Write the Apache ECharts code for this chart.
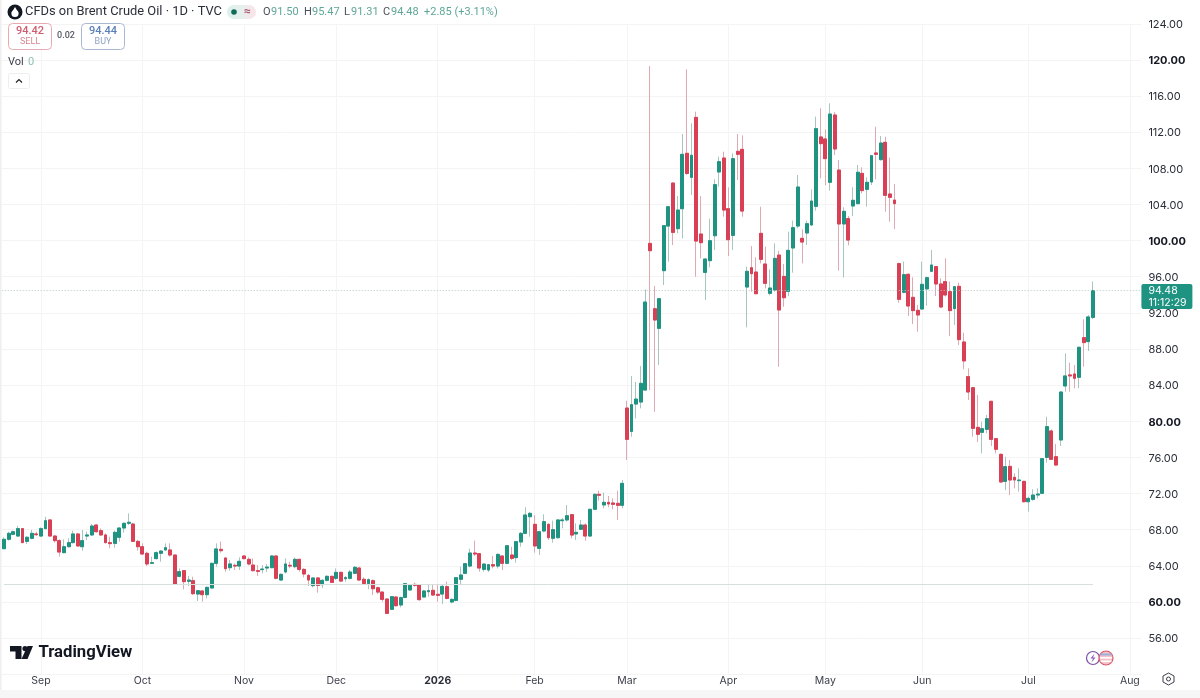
<!DOCTYPE html>
<html>
<head>
<meta charset="utf-8">
<title>CFDs on Brent Crude Oil</title>
<style>
    html, body { margin: 0; padding: 0; background: #fff; }
    #chart { width: 1200px; height: 698px; }
</style>
<script src="https://cdn.jsdelivr.net/npm/echarts@6/dist/echarts.min.js"></script>
</head>
<body>
<div id="chart"></div>
<script>
// daily bars, oldest first
var opens = [
    65.90, 66.94, 67.49, 67.30, 68.12, 66.71, 67.05, 67.53, 67.30, 68.12,
    69.08, 67.30, 66.79, 65.46, 66.12, 66.57, 67.53, 66.12, 67.30, 67.42,
    68.52, 67.90, 67.42, 66.57, 66.49, 67.16, 68.19, 68.71, 68.63, 66.71,
    66.12, 65.39, 64.28, 64.80, 65.39, 65.76, 65.76, 65.20, 62.84, 63.47,
    62.29, 62.36, 60.88, 61.22, 60.81, 61.55, 64.28, 65.83, 64.87, 63.80,
    64.06, 63.98, 65.09, 64.72, 64.09, 63.47, 63.58, 63.76, 63.80, 65.09,
    62.43, 63.32, 64.06, 63.91, 64.72, 63.61, 62.95, 61.81, 62.66, 61.92,
    62.40, 62.84, 62.62, 63.28, 62.58, 62.62, 63.17, 63.76, 62.51, 62.03,
    62.36, 61.58, 61.10, 60.33, 59.19, 60.55, 59.67, 60.51, 61.33, 61.95,
    61.88, 60.55, 61.14, 61.29, 60.85, 60.88, 61.70, 60.00, 60.18, 62.51,
    63.17, 63.98, 65.42, 65.35, 63.61, 63.54, 64.13, 63.98, 65.09, 64.28,
    65.20, 64.91, 66.64, 67.60, 69.44, 68.60, 65.94, 67.86, 68.60, 67.05,
    67.12, 69.00, 69.08, 69.67, 67.53, 68.04, 68.52, 67.30, 70.26, 71.92,
    70.74, 71.03, 70.96, 70.92, 70.70, 81.47, 78.88, 81.91, 82.13, 83.46,
    99.69, 92.46, 90.29, 96.67, 101.61, 106.37, 101.32, 103.53, 109.66, 107.00,
    113.64, 100.73, 96.48, 97.78, 100.54, 107.59, 109.14, 103.53, 100.58, 109.88,
    110.10, 94.86, 97.00, 96.52, 100.80, 97.41, 94.16, 94.53, 98.40, 96.04,
    94.38, 99.18, 101.61, 100.25, 100.84, 101.73, 103.79, 111.47, 111.25, 106.45,
    113.90, 107.81, 101.84, 102.43, 103.83, 104.09, 107.44, 105.67, 106.49, 109.70,
    108.96, 110.88, 105.16, 104.49, 97.45, 94.28, 96.27, 93.72, 92.28, 92.43,
    94.65, 96.60, 97.12, 95.20, 95.46, 94.35, 92.47, 94.94, 88.78, 84.94,
    83.72, 79.33, 78.78, 79.11, 82.21, 78.08, 76.34, 73.35, 75.01, 73.80,
    73.43, 73.35, 71.10, 71.36, 71.84, 72.03, 76.01, 78.93, 76.08, 77.93,
    83.91, 85.13, 85.24, 84.87, 89.26, 88.82, 91.50
];
var closes = [
    66.94, 67.60, 67.78, 68.12, 66.57, 67.16, 67.60, 67.45, 68.12, 69.00,
    67.30, 66.79, 65.53, 66.12, 66.57, 67.53, 66.20, 66.79, 67.42, 68.41,
    67.78, 67.42, 66.57, 66.46, 67.71, 68.19, 68.71, 68.82, 66.71, 66.12,
    65.31, 64.21, 64.35, 65.46, 65.64, 66.01, 65.20, 61.95, 63.36, 62.25,
    62.43, 60.92, 61.25, 60.81, 61.62, 64.28, 65.87, 65.68, 63.69, 64.21,
    63.98, 64.50, 64.80, 64.21, 63.47, 63.39, 63.65, 63.87, 65.09, 62.62,
    63.06, 64.21, 63.98, 64.72, 63.61, 63.10, 62.43, 62.66, 61.84, 62.40,
    62.84, 62.17, 63.28, 62.32, 62.69, 63.32, 63.84, 62.43, 62.03, 62.47,
    61.47, 61.10, 60.29, 58.74, 60.59, 59.59, 60.48, 62.03, 61.84, 61.84,
    60.26, 61.22, 61.25, 60.77, 60.74, 61.73, 60.40, 60.29, 62.69, 62.99,
    64.24, 65.42, 65.31, 63.76, 64.20, 64.13, 63.98, 65.27, 64.28, 66.23,
    64.83, 66.68, 67.60, 69.63, 69.81, 66.20, 67.78, 68.89, 67.12, 68.01,
    69.08, 69.08, 69.55, 67.41, 67.71, 68.52, 67.30, 70.26, 71.92, 71.81,
    71.03, 70.85, 70.81, 70.70, 73.13, 78.00, 81.84, 82.46, 84.20, 93.20,
    98.88, 91.21, 93.57, 101.65, 103.75, 100.91, 103.38, 109.55, 107.44, 109.44,
    99.95, 99.77, 97.96, 99.99, 106.19, 108.74, 103.38, 100.10, 109.07, 109.55,
    103.27, 96.60, 96.34, 94.12, 97.92, 95.27, 94.75, 98.03, 92.32, 93.68,
    98.92, 101.43, 105.93, 99.84, 101.87, 104.38, 112.39, 110.73, 109.07, 114.01,
    110.14, 101.84, 103.24, 100.06, 104.46, 107.56, 105.53, 106.45, 109.40, 109.55,
    110.80, 105.01, 104.79, 104.09, 93.50, 96.23, 92.76, 92.25, 91.77, 95.16,
    95.90, 97.30, 95.20, 92.65, 93.98, 92.25, 94.90, 89.04, 86.68, 83.24,
    79.22, 78.56, 79.18, 80.29, 78.00, 76.90, 73.28, 74.98, 73.50, 73.50,
    73.50, 71.10, 71.47, 71.84, 71.95, 75.86, 79.41, 75.79, 75.16, 83.24,
    85.02, 85.02, 84.76, 88.19, 88.71, 91.55, 94.48
];
var highs = [
    67.16, 67.78, 67.90, 68.41, 68.12, 67.30, 67.97, 67.78, 68.26, 69.44,
    69.15, 67.42, 66.94, 66.94, 67.05, 67.90, 67.60, 67.97, 67.78, 68.63,
    68.63, 68.15, 67.60, 67.23, 67.90, 68.26, 68.78, 69.81, 68.78, 66.86,
    66.49, 65.57, 65.02, 65.61, 65.76, 66.49, 66.49, 65.20, 63.73, 63.54,
    62.88, 62.80, 61.33, 61.33, 61.70, 64.35, 66.49, 66.68, 64.94, 64.65,
    64.28, 64.94, 65.20, 64.94, 64.83, 64.09, 64.09, 64.21, 65.20, 65.20,
    63.17, 64.83, 64.46, 64.94, 64.80, 63.73, 63.10, 62.73, 62.73, 62.51,
    62.95, 62.91, 63.72, 63.36, 62.88, 63.54, 63.98, 63.91, 62.73, 62.62,
    62.51, 61.70, 61.14, 60.40, 60.66, 60.66, 60.59, 62.06, 61.92, 62.14,
    61.99, 61.33, 61.88, 61.88, 61.88, 61.88, 62.25, 60.40, 62.76, 63.91,
    64.35, 65.90, 66.79, 65.38, 64.28, 64.20, 65.09, 65.38, 65.20, 66.31,
    66.12, 66.75, 67.75, 70.48, 69.98, 69.63, 67.89, 69.70, 68.71, 69.00,
    69.15, 69.30, 70.74, 69.74, 68.71, 69.08, 68.71, 70.33, 71.99, 72.32,
    72.10, 71.73, 71.47, 72.32, 73.50, 82.28, 85.01, 84.38, 86.12, 94.60,
    119.33, 94.97, 93.64, 101.72, 103.83, 106.45, 104.93, 111.80, 118.96, 112.98,
    114.27, 104.93, 98.03, 102.43, 106.78, 109.29, 109.84, 105.89, 109.66, 111.80,
    111.65, 97.11, 99.40, 98.15, 103.75, 99.33, 96.82, 99.69, 98.88, 97.41,
    100.99, 102.21, 107.26, 101.25, 102.21, 105.67, 113.72, 114.64, 112.32, 115.19,
    114.23, 108.92, 103.68, 102.72, 105.90, 108.37, 108.11, 107.00, 109.47, 112.61,
    111.58, 111.50, 109.18, 106.26, 97.56, 97.67, 96.38, 95.94, 92.87, 97.67,
    96.01, 98.96, 97.19, 95.83, 98.04, 95.46, 94.98, 95.35, 89.81, 85.86,
    83.83, 82.91, 79.96, 80.70, 82.28, 78.15, 76.45, 76.08, 75.72, 74.24,
    74.79, 73.43, 71.66, 72.47, 72.58, 75.94, 80.51, 79.11, 77.49, 83.32,
    87.52, 86.49, 86.23, 88.26, 91.29, 91.77, 95.47
];
var lows = [
    65.83, 66.79, 67.42, 67.23, 66.57, 66.42, 66.94, 67.30, 67.23, 68.04,
    67.30, 66.57, 65.02, 65.39, 66.05, 66.49, 66.12, 65.68, 66.86, 67.30,
    67.67, 67.30, 66.49, 65.94, 66.01, 66.68, 67.67, 68.52, 66.68, 65.68,
    65.20, 63.98, 64.21, 64.72, 64.46, 65.68, 65.02, 61.92, 62.73, 61.40,
    61.77, 60.77, 60.11, 60.04, 60.40, 61.48, 63.91, 65.46, 63.36, 63.47,
    63.54, 63.54, 64.72, 64.06, 63.36, 62.88, 63.17, 63.32, 63.73, 62.51,
    62.36, 63.17, 63.73, 63.73, 63.36, 62.73, 61.77, 61.62, 61.03, 61.55,
    62.29, 62.10, 62.43, 62.21, 62.25, 62.51, 63.10, 62.36, 61.92, 61.40,
    60.77, 60.88, 60.03, 58.67, 59.11, 59.48, 59.41, 60.44, 61.25, 61.70,
    60.14, 60.48, 60.59, 60.66, 60.03, 59.77, 60.29, 59.85, 60.07, 61.88,
    63.10, 63.84, 65.09, 63.36, 63.36, 63.32, 63.72, 63.72, 63.54, 64.17,
    64.65, 64.35, 66.12, 67.53, 67.23, 65.46, 65.20, 67.71, 66.86, 66.57,
    67.01, 68.15, 68.89, 67.05, 66.86, 67.97, 66.79, 67.23, 70.18, 71.22,
    70.37, 70.48, 70.26, 69.08, 70.37, 75.71, 78.29, 80.32, 81.43, 83.39,
    83.46, 81.06, 86.23, 95.08, 97.67, 99.51, 100.80, 100.25, 107.26, 105.05,
    96.00, 98.03, 93.42, 97.04, 98.96, 105.97, 102.65, 98.29, 98.96, 106.71,
    102.65, 90.40, 94.34, 94.09, 97.48, 94.71, 93.94, 94.34, 86.04, 92.68,
    93.87, 96.45, 101.36, 97.48, 99.51, 101.61, 103.31, 106.89, 106.15, 105.53,
    109.47, 96.67, 95.93, 99.47, 102.72, 104.01, 105.23, 103.75, 106.15, 106.78,
    108.85, 103.20, 102.09, 101.28, 93.13, 94.17, 91.66, 90.77, 89.92, 92.32,
    92.80, 96.53, 93.87, 92.58, 93.80, 89.44, 90.66, 88.45, 85.75, 82.36,
    78.30, 77.71, 76.45, 78.67, 77.27, 76.45, 73.21, 72.39, 71.84, 72.58,
    72.21, 71.00, 70.00, 71.21, 71.47, 71.95, 75.42, 75.72, 75.05, 77.27,
    83.28, 83.28, 83.65, 83.65, 86.05, 87.78, 91.31
];
var monthNames = ['Sep', 'Oct', 'Nov', 'Dec', '2026', 'Feb', 'Mar', 'Apr', 'May', 'Jun', 'Jul', 'Aug'];
var monthFirstBar = [8, 30, 52, 72, 94, 115, 135, 157, 178, 199, 222, 244];
var lastPrice = 94.48;
var baseLinePrice = 62;
var barSlots = 247; // empty slots stay on the right, as in the original

var categories = [];
for (let i = 0; i < barSlots; i++) {
    let m = monthFirstBar.indexOf(i);
    categories.push(m >= 0 ? monthNames[m] : 'bar ' + i);
}

let wickData = [];
let bodyData = [];
opens.forEach((o, i) => {
    let c = closes[i];
    wickData.push([o, c, lows[i], highs[i]]);
    bodyData.push([o, c, Math.min(o, c), Math.max(o, c)]);
});

var font = 'Inter, Roboto, sans-serif';
var headFont = 'Roboto, sans-serif';
var green = '#1f9382';
var red = '#d93f55';

function txt(x, y, text, size, fill, weight, align) {
    return {
        type: 'text', silent: true, z: 100, x: x, y: y,
        style: {
            text: text, fill: fill, fontFamily: headFont, fontSize: size, fontWeight: weight || 400,
            align: align || 'left', verticalAlign: 'middle'
        }
    };
}
function box(x, y, w, h, r, fill, stroke) {
    return {
        type: 'rect', silent: true, z: 100,
        shape: { x: x, y: y, width: w, height: h, r: r },
        style: { fill: fill, stroke: stroke || null, lineWidth: 1 }
    };
}

// header, buttons, logo and little icons
var decorations = [
    box(0, 0, 1.5, 690, 0, '#eeeeee'),
    box(0, 690, 1200, 8, 0, '#f6f6f6'),

    { type: 'circle', silent: true, z: 100, shape: { cx: 15, cy: 12, r: 7.5 }, style: { fill: '#131722' } },
    { type: 'circle', silent: true, z: 101, shape: { cx: 15, cy: 13.5, r: 3.6 }, style: { fill: '#fff' } },
    { type: 'polygon', silent: true, z: 101, shape: { points: [[15, 7], [18, 12], [12, 12]] }, style: { fill: '#fff' } },
    txt(25, 12, 'CFDs on Brent Crude Oil · 1D · TVC', 12.9, '#2a2e39'),
    {
        type: 'rect', silent: true, z: 100,
        shape: { x: 227, y: 5, width: 29, height: 14, r: 7 },
        style: { fill: { type: 'linear', x: 0, y: 0, x2: 1, y2: 0, colorStops: [{ offset: 0, color: '#dcf0ec' }, { offset: 0.5, color: '#e6f0ee' }, { offset: 1, color: '#fbe3e7' }] } }
    },
    { type: 'circle', silent: true, z: 101, shape: { cx: 234, cy: 12, r: 2.8 }, style: { fill: '#0f6b5a' } },
    txt(247.5, 12, '≈', 12, '#a8566b', 600, 'center'),
    txt(263, 12, 'O', 11, '#4a4f5c'),
    txt(271, 12, '91.50', 11, '#5ea698'),
    txt(304, 12, 'H', 11, '#4a4f5c'),
    txt(312, 12, '95.47', 11, '#5ea698'),
    txt(344, 12, 'L', 11, '#4a4f5c'),
    txt(351, 12, '91.31', 11, '#5ea698'),
    txt(383, 12, 'C', 11, '#4a4f5c'),
    txt(391, 12, '94.48', 11, '#5ea698'),
    txt(424, 12, '+2.85 (+3.11%)', 11, '#5ea698'),

    box(8.5, 23.5, 43, 26, 4, '#fff', '#e8aab2'),
    txt(30, 31, '94.42', 11, '#cf5d70', 500, 'center'),
    txt(30, 42, 'SELL', 9, '#d98894', 400, 'center'),
    txt(66, 36, '0.02', 9, '#555a66', 500, 'center'),
    box(81.5, 23.5, 43, 26, 4, '#fff', '#a9b8d2'),
    txt(103, 31, '94.44', 11, '#5b7fb8', 500, 'center'),
    txt(103, 42, 'BUY', 9, '#8fa3c6', 400, 'center'),

    txt(8, 62, 'Vol', 11, '#3b3f4a'),
    txt(28, 62, '0', 11, '#8fbfb5'),
    box(8.5, 73.5, 21, 15, 2, '#fff', '#eeeeee'),
    { type: 'polyline', silent: true, z: 101, shape: { points: [[16, 82.5], [19, 79.5], [22, 82.5]] }, style: { stroke: '#222', lineWidth: 1.2, fill: null } },

    // TradingView mark
    { type: 'polygon', silent: true, z: 100, shape: { points: [[10, 646], [21.5, 646], [21.5, 659], [15.5, 659], [15.5, 651.5], [10, 651.5]] }, style: { fill: '#131722' } },
    { type: 'polygon', silent: true, z: 100, shape: { points: [[27.5, 646], [33, 646], [27.5, 659], [21.5, 659]] }, style: { fill: '#131722' } },
    { type: 'circle', silent: true, z: 100, shape: { cx: 25, cy: 648.6, r: 2.6 }, style: { fill: '#131722' } },
    txt(38.5, 652.5, 'TradingView', 16.7, '#131722', 700),

    { type: 'circle', silent: true, z: 100, shape: { cx: 1093, cy: 658, r: 6.5 }, style: { fill: '#fff', stroke: '#7b4fa8', lineWidth: 1.2 } },
    { type: 'polygon', silent: true, z: 101, shape: { points: [[1094.5, 653.5], [1090.5, 658.5], [1093, 658.5], [1091.5, 662.5], [1095.5, 657.5], [1093, 657.5]] }, style: { fill: '#8e5cc0' } },
    { type: 'circle', silent: true, z: 100, shape: { cx: 1106, cy: 658, r: 7 }, style: { fill: '#f4c2c8', stroke: '#d9586b', lineWidth: 1.2 } },
    { type: 'rect', silent: true, z: 101, shape: { x: 1100.5, y: 653.5, width: 11, height: 2 }, style: { fill: '#9db2d8' } },
    { type: 'rect', silent: true, z: 101, shape: { x: 1100, y: 657, width: 12, height: 1.6 }, style: { fill: '#ffffff' } },
    { type: 'rect', silent: true, z: 101, shape: { x: 1100.5, y: 660.5, width: 11, height: 1.6 }, style: { fill: '#ffffff' } },

    { type: 'polygon', silent: true, z: 100, shape: { points: [[1168.5, 673], [1174, 676], [1174, 682], [1168.5, 685], [1163, 682], [1163, 676]] }, style: { fill: null, stroke: '#3b3f4a', lineWidth: 1 } },
    { type: 'circle', silent: true, z: 100, shape: { cx: 1168.5, cy: 679, r: 2 }, style: { fill: null, stroke: '#3b3f4a', lineWidth: 1 } }
];

var myChart = echarts.init(document.getElementById('chart'));

var option = {
    animation: false,
    backgroundColor: '#fff',
    textStyle: { fontFamily: font },
    grid: { left: 1.7, right: 58.6, top: 23.76, bottom: 23.72 },
    xAxis: {
        type: 'category',
        data: categories,
        boundaryGap: true,
        axisLine: { show: false },
        axisTick: { show: false },
        axisLabel: {
            margin: 1,
            color: '#3b3f4a',
            fontSize: 10.5,
            fontFamily: font,
            interval: function (index) { return monthFirstBar.indexOf(index) >= 0; },
            formatter: function (v) { return v === '2026' ? '{year|2026}' : v; },
            rich: { year: { fontWeight: 700, fontSize: 10.5, color: '#2a2e39', fontFamily: font } }
        },
        splitLine: {
            show: true,
            alignWithLabel: true,
            interval: function (index) { return monthFirstBar.indexOf(index) >= 0; },
            lineStyle: { color: '#f4f4f4', width: 1 }
        }
    },
    yAxis: {
        type: 'value',
        position: 'right',
        min: 52,
        max: 124,
        interval: 4,
        axisLine: { show: false },
        axisTick: { show: false },
        splitLine: { show: true, lineStyle: { color: '#f4f4f4', width: 1 } },
        axisLabel: {
            margin: 7,
            color: '#2a2e39',
            fontSize: 11,
            fontFamily: font,
            padding: [2, 0, 0, 0],
            showMinLabel: false,
            formatter: function (v) {
                if (v < 56) return '';
                return v % 20 === 0 ? '{big|' + v.toFixed(2) + '}' : v.toFixed(2);
            },
            rich: { big: { fontWeight: 700, fontSize: 11, color: '#131722', fontFamily: font } }
        }
    },
    series: [{
        // light wicks underneath
        name: 'wick',
        type: 'candlestick',
        silent: true,
        barWidth: 3.4,
        data: wickData,
        itemStyle: { color: '#a6c6bf', color0: '#dfa9b1', borderColor: '#a6c6bf', borderColor0: '#dfa9b1', borderWidth: 1 },
        markLine: {
            silent: true,
            symbol: 'none',
            animation: false,
            data: [{
                yAxis: lastPrice,
                lineStyle: { color: '#b5c9c4', type: [1, 2], width: 1 },
                label: {
                    show: true,
                    position: 'end',
                    distance: 0,
                    offset: [0, 6],
                    formatter: lastPrice.toFixed(2) + '\n11:12:29',
                    color: '#fff',
                    fontSize: 10.5,
                    lineHeight: 12,
                    fontFamily: font,
                    backgroundColor: green,
                    borderRadius: 2,
                    padding: [1, 0, 0, 7],
                    width: 44,
                    align: 'left'
                }
            }, [
                { coord: [0, baseLinePrice], lineStyle: { color: '#d5e0dd', type: 'solid', width: 1 }, label: { show: false } },
                { coord: [opens.length - 1, baseLinePrice] }
            ]]
        }
    }, {
        name: 'body',
        type: 'candlestick',
        silent: true,
        barWidth: 3.4,
        data: bodyData,
        itemStyle: { color: green, color0: red, borderColor: green, borderColor0: red, borderWidth: 1 }
    }],
    graphic: { elements: decorations }
};

myChart.setOption(option);
window.addEventListener('resize', function () {
    myChart.resize();
});
</script>
</body>
</html>
